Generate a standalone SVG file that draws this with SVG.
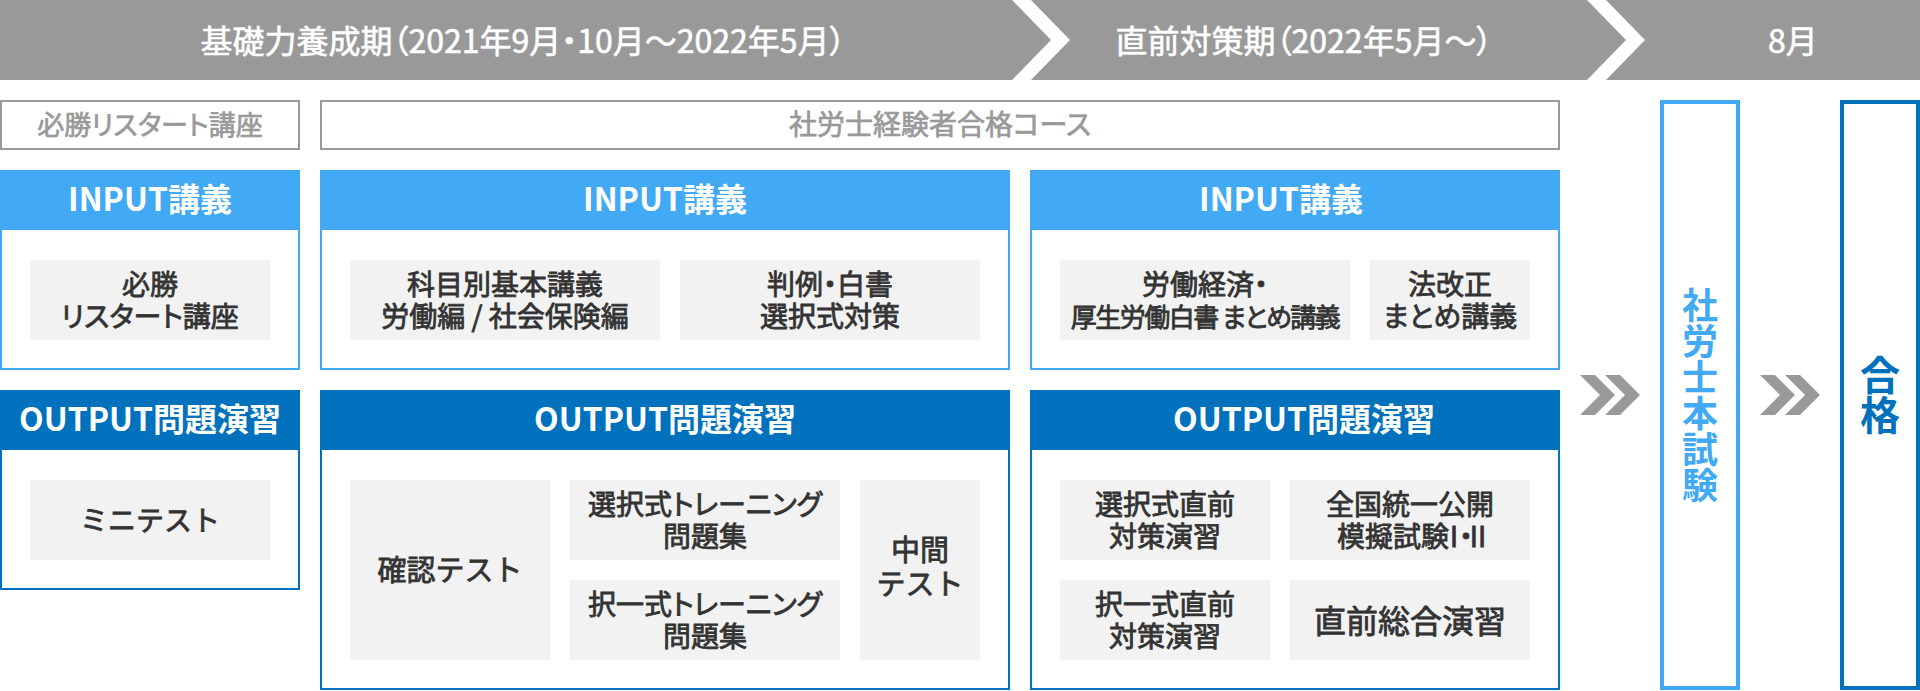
<svg xmlns="http://www.w3.org/2000/svg" xmlns:xlink="http://www.w3.org/1999/xlink" width="1920" height="691" viewBox="0 0 1920 691">
<style>
text{font-family:"Noto Sans CJK JP","Noto Sans",sans-serif;text-anchor:middle}
.band{fill:#999999}
.t-band{font-size:32px;font-weight:400;fill:#ffffff;stroke:#ffffff;stroke-width:0.6px;font-feature-settings:"palt"}
.lbl{fill:#ffffff;stroke:#999999;stroke-width:2}
.t-lbl{font-size:27px;font-weight:400;fill:#999999;stroke:#999999;stroke-width:0.7px;font-feature-settings:"palt"}
.box-in{fill:#ffffff;stroke:#42a9f5;stroke-width:2}
.hdr-in{fill:#42a9f5}
.box-out{fill:#ffffff;stroke:#0071bc;stroke-width:2}
.hdr-out{fill:#0071bc}
.t-hdr{font-size:32px;font-weight:700;fill:#ffffff}
.cell{fill:#f2f2f2}
.t-cell{font-size:28px;font-weight:400;fill:#333333;stroke:#333333;stroke-width:0.8px;font-feature-settings:"palt"}
.t-one{font-size:28px;font-weight:400;fill:#333333;stroke:#333333;stroke-width:0.8px}
.chev{fill:#999999}
.exam{fill:#ffffff;stroke:#42a9f5;stroke-width:4}
.pass{fill:#ffffff;stroke:#0071bc;stroke-width:4}
.t-exam{font-size:36px;font-weight:700;fill:#42a9f5;writing-mode:vertical-rl}
.t-pass{font-size:40px;font-weight:700;fill:#0071bc;writing-mode:vertical-rl}
</style>
<defs>
<path id="chev" d="M0,0 h15 l20,20 l-20,20 h-15 l20,-20 z"/>
</defs>

<g id="timeline">
<polygon class="band" points="0,0 1012,0 1051,40 1012,80 0,80"/>
<polygon class="band" points="1031,0 1587,0 1626,40 1587,80 1031,80 1070,40"/>
<polygon class="band" points="1606,0 1920,0 1920,80 1606,80 1645,40"/>
<text class="t-band" x="523" y="53">基礎力養成期（2021年9月・10月～2022年5月）</text>
<text class="t-band" x="1304" y="53">直前対策期（2022年5月～）</text>
<text class="t-band" x="1793" y="53">8月</text>
</g>

<g id="label-restart">
<rect class="lbl" x="1" y="101" width="298" height="48"/>
<text class="t-lbl" x="150" y="135">必勝リスタート講座</text>
</g>
<g id="label-course">
<rect class="lbl" x="321" y="101" width="1238" height="48"/>
<text class="t-lbl" x="940" y="135" style="font-size:28px">社労士経験者合格コース</text>
</g>

<g id="input-1">
<rect class="box-in" x="1" y="171" width="298" height="198"/>
<rect class="hdr-in" x="0" y="170" width="300" height="60"/>
<text class="t-hdr" x="150" y="211">INPUT講義</text>
<rect class="cell" x="30" y="260" width="240" height="80"/>
<text class="t-cell" x="150" y="295">必勝<tspan x="150" dy="32">リスタート講座</tspan></text>
</g>

<g id="input-2">
<rect class="box-in" x="321" y="171" width="688" height="198"/>
<rect class="hdr-in" x="320" y="170" width="690" height="60"/>
<text class="t-hdr" x="665" y="211">INPUT講義</text>
<rect class="cell" x="350" y="260" width="310" height="80"/>
<text class="t-cell" x="505" y="295">科目別基本講義<tspan x="505" dy="32">労働編 / 社会保険編</tspan></text>
<rect class="cell" x="680" y="260" width="300" height="80"/>
<text class="t-cell" x="830" y="295">判例・白書<tspan x="830" dy="32">選択式対策</tspan></text>
</g>

<g id="input-3">
<rect class="box-in" x="1031" y="171" width="528" height="198"/>
<rect class="hdr-in" x="1030" y="170" width="530" height="60"/>
<text class="t-hdr" x="1281" y="211">INPUT講義</text>
<rect class="cell" x="1060" y="260" width="290" height="80"/>
<text class="t-cell" x="1205" y="295">労働経済・<tspan x="1205" dy="32" style="font-size:26px" letter-spacing="-1.5">厚生労働白書 まとめ講義</tspan></text>
<rect class="cell" x="1370" y="260" width="160" height="80"/>
<text class="t-cell" x="1450" y="295">法改正<tspan x="1450" dy="32">まとめ講義</tspan></text>
</g>

<g id="output-1">
<rect class="box-out" x="1" y="391" width="298" height="198"/>
<rect class="hdr-out" x="0" y="390" width="300" height="60"/>
<text class="t-hdr" x="150" y="431">OUTPUT問題演習</text>
<rect class="cell" x="30" y="480" width="240" height="80"/>
<text class="t-one" x="150" y="531">ミニテスト</text>
</g>

<g id="output-2">
<rect class="box-out" x="321" y="391" width="688" height="298"/>
<rect class="hdr-out" x="320" y="390" width="690" height="60"/>
<text class="t-hdr" x="665" y="431">OUTPUT問題演習</text>
<rect class="cell" x="350" y="480" width="200" height="180"/>
<text class="t-one" x="450" y="581" style="font-size:29px">確認テスト</text>
<rect class="cell" x="570" y="480" width="270" height="80"/>
<text class="t-cell" x="705" y="515">選択式トレーニング<tspan x="705" dy="32">問題集</tspan></text>
<rect class="cell" x="570" y="580" width="270" height="80"/>
<text class="t-cell" x="705" y="615">択一式トレーニング<tspan x="705" dy="32">問題集</tspan></text>
<rect class="cell" x="860" y="480" width="120" height="180"/>
<text class="t-one" x="920" y="561" style="font-size:29px">中間<tspan x="920" dy="34">テスト</tspan></text>
</g>

<g id="output-3">
<rect class="box-out" x="1031" y="391" width="528" height="298"/>
<rect class="hdr-out" x="1030" y="390" width="530" height="60"/>
<text class="t-hdr" x="1304" y="431">OUTPUT問題演習</text>
<rect class="cell" x="1060" y="480" width="210" height="80"/>
<text class="t-cell" x="1165" y="515">選択式直前<tspan x="1165" dy="32">対策演習</tspan></text>
<rect class="cell" x="1290" y="480" width="240" height="80"/>
<text class="t-cell" x="1410" y="515">全国統一公開<tspan x="1410" dy="32">模擬試験<tspan dx="-9" letter-spacing="-9">Ⅰ・Ⅱ</tspan></tspan></text>
<rect class="cell" x="1060" y="580" width="210" height="80"/>
<text class="t-cell" x="1165" y="615">択一式直前<tspan x="1165" dy="32">対策演習</tspan></text>
<rect class="cell" x="1290" y="580" width="240" height="80"/>
<text class="t-one" x="1410" y="633" style="font-size:32px">直前総合演習</text>
</g>

<g id="exam">
<rect class="exam" x="1662" y="102" width="76" height="586"/>
<text class="t-exam" x="1700" y="395">社労士本試験</text>
</g>

<g id="pass">
<rect class="pass" x="1842" y="102" width="76" height="586"/>
<text class="t-pass" x="1880" y="395">合格</text>
</g>

<g id="connectors">
<use xlink:href="#chev" class="chev" x="1580" y="375"/>
<use xlink:href="#chev" class="chev" x="1605" y="375"/>
<use xlink:href="#chev" class="chev" x="1760" y="375"/>
<use xlink:href="#chev" class="chev" x="1785" y="375"/>
</g>
</svg>
